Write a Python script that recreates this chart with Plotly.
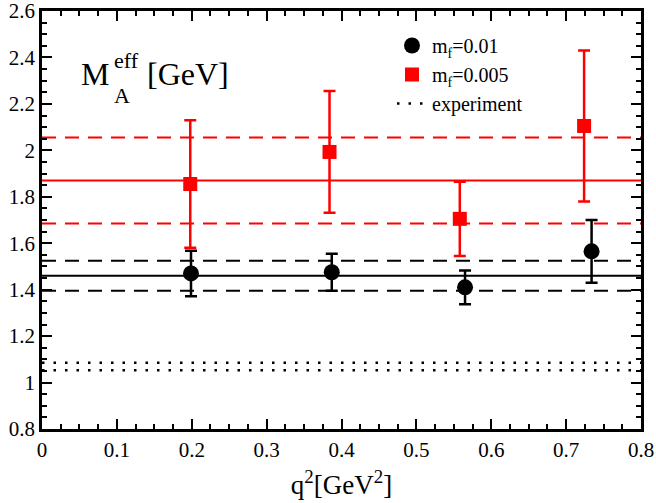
import plotly.graph_objects as go

# ---- data ----
x_range = [0.0, 0.8]
y_range = [0.8, 2.6]

x_mf01 = [0.199, 0.387, 0.565, 0.734]
y_mf01 = [1.470, 1.475, 1.410, 1.565]
err_mf01 = [0.098, 0.080, 0.073, 0.135]

x_mf005 = [0.198, 0.384, 0.558, 0.724]
y_mf005 = [1.855, 1.993, 1.705, 2.105]
err_mf005 = [0.275, 0.262, 0.160, 0.325]

fit_mf01 = [1.395, 1.460, 1.525]      # lower, central, upper
fit_mf005 = [1.685, 1.870, 2.055]     # lower, central, upper
experiment = [1.053, 1.085]

x_ticks = [0, 0.1, 0.2, 0.3, 0.4, 0.5, 0.6, 0.7, 0.8]
y_ticks = [0.8, 1.0, 1.2, 1.4, 1.6, 1.8, 2.0, 2.2, 2.4, 2.6]

FONT = "Liberation Serif"
RED = "#ff0000"

fig = go.Figure()

# fit bands
for i, v in enumerate(fit_mf005):
    fig.add_trace(go.Scatter(x=x_range, y=[v, v], mode="lines", showlegend=False,
                             hoverinfo="skip",
                             line=dict(color=RED, width=2,
                                       dash="solid" if i == 1 else "14px,9px")))
for i, v in enumerate(fit_mf01):
    fig.add_trace(go.Scatter(x=x_range, y=[v, v], mode="lines", showlegend=False,
                             hoverinfo="skip",
                             line=dict(color="black", width=2,
                                       dash="solid" if i == 1 else "14px,9px")))

# data points
fig.add_trace(go.Scatter(x=x_mf01, y=y_mf01, mode="markers", name="m<sub>f</sub>=0.01",
                         marker=dict(symbol="circle", size=16, color="black"),
                         error_y=dict(type="data", array=err_mf01, color="black",
                                      thickness=2.5, width=6)))
fig.add_trace(go.Scatter(x=x_mf005, y=y_mf005, mode="markers", name="m<sub>f</sub>=0.005",
                         marker=dict(symbol="square", size=14, color=RED),
                         error_y=dict(type="data", array=err_mf005, color=RED,
                                      thickness=2.5, width=6)))

# experiment
for i, v in enumerate(experiment):
    fig.add_trace(go.Scatter(x=x_range, y=[v, v], mode="lines", name="experiment",
                             showlegend=(i == 0), hoverinfo="skip",
                             line=dict(color="black", width=2.5, dash="2.5px,9px")))

# plot area in pixels
L, R, T, B = 42, 15, 11, 74
W, H = 656, 503
pw, ph = W - L - R, H - T - B

def px(xp):
    return (xp - L) / pw

def py(yp):
    return (H - B - yp) / ph

ann = [
    dict(text="M", x=px(79), y=py(74), size=32),
    dict(text="eff", x=px(112), y=py(60), size=22),
    dict(text="A", x=px(112), y=py(95), size=22),
    dict(text="[GeV]", x=px(145), y=py(74), size=32),
]
for a in ann:
    fig.add_annotation(text=a["text"], x=a["x"], y=a["y"], xref="paper", yref="paper",
                       xanchor="left", yanchor="middle", showarrow=False,
                       font=dict(family=FONT, size=a["size"], color="black"))

axis_common = dict(showline=True, linecolor="black", linewidth=2.5, mirror="ticks",
                   ticks="inside", ticklen=10, tickwidth=2, tickcolor="black",
                   showgrid=False, zeroline=False, automargin=False,
                   ticklabeloverflow="allow",
                   tickfont=dict(family=FONT, size=21, color="black"))

fig.update_xaxes(range=x_range, tickvals=x_ticks,
                 ticktext=[f"{t:g}" for t in x_ticks],
                 minor=dict(dtick=0.025, ticks="inside", ticklen=5, tickwidth=2,
                            tickcolor="black", showgrid=False),
                 title=dict(text="q<sup>2</sup>[GeV<sup>2</sup>]",
                            font=dict(family=FONT, size=27, color="black"), standoff=15),
                 **axis_common)
fig.update_yaxes(range=y_range, tickvals=y_ticks,
                 ticktext=[f"{t:g}" for t in y_ticks],
                 minor=dict(dtick=0.05, ticks="inside", ticklen=5, tickwidth=2,
                            tickcolor="black", showgrid=False),
                 **axis_common)

fig.update_layout(
    width=W, height=H,
    margin=dict(l=L, r=R, t=T, b=B, autoexpand=False),
    plot_bgcolor="white", paper_bgcolor="white",
    font=dict(family=FONT, color="black"),
    legend=dict(x=px(392), y=py(26), xanchor="left", yanchor="top",
                bgcolor="rgba(0,0,0,0)", font=dict(family=FONT, size=20, color="black"),
                tracegroupgap=0, itemwidth=30),
)

fig.write_html("out.html")
